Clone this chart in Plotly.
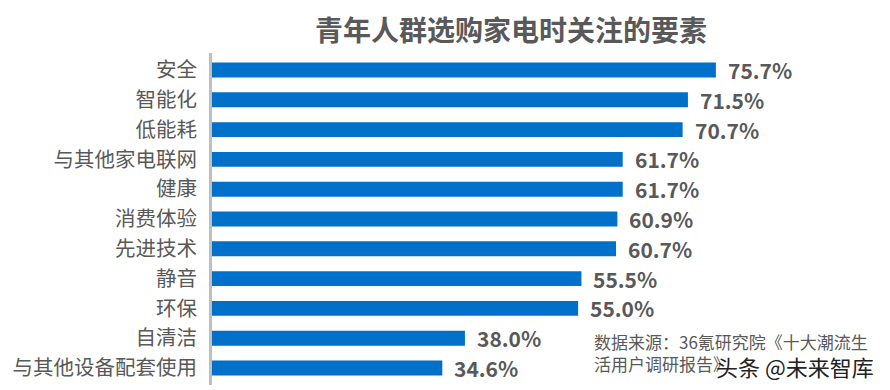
import plotly.graph_objects as go

categories = ["安全", "智能化", "低能耗", "与其他家电联网", "健康", "消费体验",
              "先进技术", "静音", "环保", "自清洁", "与其他设备配套使用"]
values = [75.7, 71.5, 70.7, 61.7, 61.7, 60.9, 60.7, 55.5, 55.0, 38.0, 34.6]
value_labels = ["75.7%", "71.5%", "70.7%", "61.7%", "61.7%", "60.9%",
                "60.7%", "55.5%", "55.0%", "38.0%", "34.6%"]
title_text = "青年人群选购家电时关注的要素"
source_text = "数据来源：36氪研究院《十大潮流生<br>活用户调研报告》"
watermark_text = "头条 @未来智库"

FONT = "Noto Sans CJK SC"
GRAY = "#595959"

W, H = 882, 382
L, R, T, B = 204, 19, 45, 5
PW, PH = W - L - R, H - T - B
OFF = 8  # page offset of the figure

def px_x(x):
    return (x - OFF - L) / PW

def px_y(y):
    return (H - B - (y - OFF)) / PH

fig = go.Figure()
fig.add_trace(go.Bar(
    x=values, y=categories, orientation="h",
    marker=dict(color="#0070C8", line=dict(width=0)),
    width=0.5, hoverinfo="skip",
))

for v, c, t in zip(values, categories, value_labels):
    fig.add_annotation(x=v, y=c, text=f"<b>{t}</b>", showarrow=False,
                       xanchor="left", yanchor="middle", xshift=10,
                       font=dict(family=FONT, size=21, color=GRAY))

fig.add_annotation(xref="paper", yref="paper", x=px_x(592), y=px_y(327),
                   text=source_text, showarrow=False, xanchor="left", yanchor="top",
                   align="left", font=dict(family=FONT, size=17, color=GRAY))
fig.add_annotation(xref="paper", yref="paper", x=px_x(876), y=px_y(366),
                   text=watermark_text, showarrow=False, xanchor="right", yanchor="middle",
                   font=dict(family=FONT, size=22, color="#222222"),
                   bgcolor="rgba(0,0,0,0)")

fig.update_layout(
    width=W, height=H,
    margin=dict(l=L, r=R, t=T, b=B, autoexpand=False),
    paper_bgcolor="white", plot_bgcolor="white",
    showlegend=False,
    title=dict(text=f"<b>{title_text}</b>", x=(511 - OFF) / W, xanchor="center",
               y=1 - (31 - OFF) / H, yanchor="middle", yref="container",
               font=dict(family=FONT, size=28, color=GRAY)),
    xaxis=dict(range=[0, 99], visible=False, fixedrange=True, automargin=False),
    yaxis=dict(autorange="reversed", showline=True, linecolor="#BFBFBF", linewidth=3,
               ticks="", ticklabelstandoff=8, showgrid=False, automargin=False,
               tickfont=dict(family=FONT, size=20.5, color=GRAY)),
)

fig.write_html("out.html")
